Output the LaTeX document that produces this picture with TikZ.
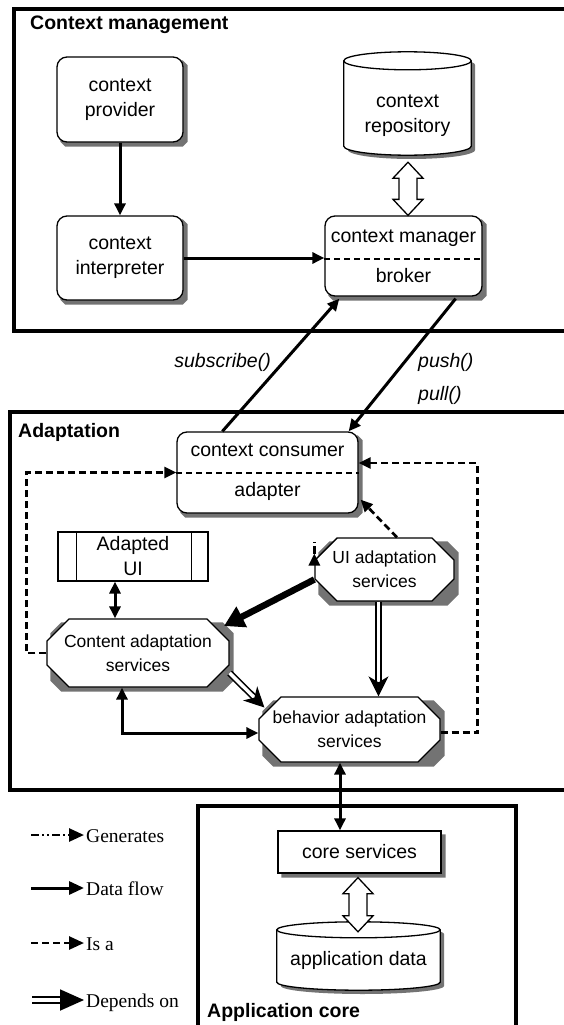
\documentclass[tikz,border=0pt]{standalone}
\usepackage{fontspec}
\setmainfont{Liberation Sans}
\newfontfamily\legendfont{Liberation Serif}
\usetikzlibrary{arrows.meta,shapes.misc,calc,backgrounds}
\colorlet{shadowc}{black!55}
\newcommand\nf{\fontsize{19.5pt}{25pt}\selectfont}
\newcommand\smnf{\fontsize{17.5pt}{24pt}\selectfont}
\newcommand\cyl[2]{%
  \path[fill=white,draw,line width=1.3pt] let \p1=(#1.north west),\p2=(#1.south east),\n1={(\x2-\x1)/2} in
    (\x1,{\y1-#2pt}) -- (\x1,{\y2+#2pt}) arc[start angle=180,end angle=360,x radius={\n1*1pt},y radius=#2pt]
    -- (\x2,{\y1-#2pt}) arc[start angle=0,end angle=180,x radius={\n1*1pt},y radius=#2pt] -- cycle;
  \draw[line width=1.3pt] let \p1=(#1.north west),\p2=(#1.south east),\n1={(\x2-\x1)/2} in
    (\x1,{\y1-#2pt}) arc[start angle=180,end angle=360,x radius={\n1*1pt},y radius=#2pt];}
% cylinder shadow as polyline: node, half width, top ellipse centre y, bottom ellipse centre y, ry (relative to node centre, y down)
\newcommand\cylshadow[5]{%
  \begin{scope}[shift={(#1.center)}]
  \fill[shadowc] ({4-#2},#3) -- plot[domain=180:0,samples=31] ({4+#2*cos(\x)},{#4+#5*sin(\x)})
    -- plot[domain=0:-180,samples=31] ({4+#2*cos(\x)},{#3+#5*sin(\x)}) -- cycle;
  \end{scope}}
\newcommand\hollowarrow[2]{%
  \path[hollow] let \p1=(#1),\p2=(#2) in (\x1,\y1) -- ({\x1+15pt},{\y1-16pt}) -- ({\x1+9pt},{\y1-16pt})
    -- ({\x1+9pt},{\y2+16pt}) -- ({\x1+15pt},{\y2+16pt}) -- (\x1,\y2) -- ({\x1-15pt},{\y2+16pt})
    -- ({\x1-9pt},{\y2+16pt}) -- ({\x1-9pt},{\y1-16pt}) -- ({\x1-15pt},{\y1-16pt}) -- cycle;}
% box shadow as polygon: node, corner cut
\newcommand\cshadow[2]{\fill[shadowc] let \p1=(#1.north -| #1.west),\p2=(#1.south -| #1.east) in
  ({\x1+4pt+#2pt},{\y1-4pt}) -- ({\x2+4pt-#2pt},{\y1-4pt}) -- ({\x2+4pt},{\y1-4pt-#2pt}) -- ({\x2+4pt},{\y2-4pt+#2pt})
  -- ({\x2+4pt-#2pt},{\y2-4pt}) -- ({\x1+4pt+#2pt},{\y2-4pt}) -- ({\x1+4pt},{\y2-4pt+#2pt}) -- ({\x1+4pt},{\y1-4pt-#2pt}) -- cycle;}
\begin{document}
\begin{tikzpicture}[x=1pt,y=-1pt,
  box/.style={draw,line width=1.3pt,fill=white,font=\nf,align=center,inner sep=2pt},
  rbox/.style={box,rounded corners=10pt},
  obox/.style={box,chamfered rectangle,chamfered rectangle xsep=11pt,chamfered rectangle ysep=11pt,font=\smnf},
  frame/.style={line width=4.5pt},
  divider/.style={line width=2pt,dash pattern=on 6pt off 4pt},
  title/.style={font=\bfseries\nf,anchor=west,inner sep=0pt},
  lbl/.style={font=\itshape\nf,inner sep=0pt},
  leg/.style={font=\legendfont\nf,anchor=base west,inner xsep=2pt,inner ysep=0pt},
  flow/.style={line width=3pt,-{Triangle[length=12pt,width=11pt]}},
  flowboth/.style={line width=3pt,{Triangle[length=12pt,width=11pt]}-{Triangle[length=12pt,width=11pt]}},
  isa/.style={line width=2.7pt,dash pattern=on 7pt off 4pt,-{Triangle[length=12pt,width=11pt]}},
  gen/.style={line width=2.7pt,dash pattern=on 8pt off 3pt on 2pt off 3pt on 2pt off 3pt,-{Triangle[length=12pt,width=11pt]}},
  legtip/.style={-{Triangle[length=15pt,width=13pt]}},
  dep/.style={double,double distance=3.5pt,line width=1.6pt,-{Stealth[length=20pt,width=20pt,inset=6pt]}},
  depleg/.style={double,double distance=3.5pt,line width=1.8pt,-{Triangle[length=24pt,width=21pt]}},
  heavy/.style={line width=6.5pt,-{Triangle[length=20pt,width=22pt]}},
  hollow/.style={draw,line width=1.3pt,fill=white}
]
\clip (0,0) rectangle (564,1025);
% frames
\draw[frame] (14,9) rectangle (580,331);
\draw[frame] (10,412) rectangle (580,790);
\draw[frame] (198,806) rectangle (516,1040);
\node[title] (tcm) at (30,25) {Context management};
\node[title] (tad) at (18,432) {Adaptation};
\node[title] (tac) at (207,1012) {Application core};

% context management
\node[rbox,minimum width=126pt,minimum height=85pt] (prov) at (120,99.5) {context\\provider};
\node[rbox,minimum width=126pt,minimum height=84pt] (interp) at (120,258) {context\\interpreter};
\node[minimum width=127pt,minimum height=103pt,inner sep=0pt] (repo) at (407.5,103.5) {};
\cyl{repo}{9}
\node[font=\nf,align=center,inner sep=0pt] (repotext) at (407.5,116) {context\\repository};
\node[rbox,minimum width=157pt,minimum height=80pt] (mgr) at (403.5,256) {context manager\\[15pt]broker};
\draw[divider] ($(mgr.west)+(0,3)$) -- ($(mgr.east)+(0,3)$);

\draw[flow] (prov) -- (interp);
\draw[flow] (interp.east) -- (interp.east -| mgr.west);
\coordinate (h1a) at ($(repo.south)+(0.5,7)$);
\hollowarrow{h1a}{mgr.north}

% adaptation
\node[rbox,minimum width=181pt,minimum height=81pt] (cons) at (267.5,472.5) {context consumer\\[15pt]adapter};
\draw[divider] (cons.west) -- (cons.east);
\node[draw,line width=1.1pt,fill=white,minimum width=150pt,minimum height=49pt,font=\nf,align=center,inner sep=1pt] (aui) at (133,556.5) {Adapted\\UI};
\draw[line width=1.1pt] ($(aui.north west)+(19,0)$) -- ($(aui.south west)+(19,0)$);
\draw[line width=1.1pt] ($(aui.north east)+(-17,0)$) -- ($(aui.south east)+(-17,0)$);
\node[obox,minimum width=139pt,minimum height=61pt] (ui) at (384.5,569.5) {UI adaptation\\services};
\node[obox,minimum width=182pt,minimum height=68pt] (cont) at (138,653) {Content adaptation\\services};
\node[obox,minimum width=181pt,minimum height=65pt] (beh) at (349.5,729.5) {behavior adaptation\\services};

% labels between
\node[lbl,anchor=east] (lsub) at (271,362) {subscribe()};
\node[lbl,anchor=west] (lpush) at (418,362) {push()};
\node[lbl,anchor=west] (lpull) at (418,395) {pull()};
\draw[flow] ($(cons.north west)+(46,0)$) -- ($(mgr.south west)+(15,2)$);
\draw[flow] ($(mgr.south east)+(-27,2)$) -- ($(cons.north east)+(-10,0)$);

% adaptation connectors
\draw[gen] ($(ui.west)+(0,-16)$) -- ($(ui.west)+(0,-16)$ -| aui.east);
\draw[isa] ($(ui.north)+(12.5,0)$) -- ($(cons.south east)+(2,-14)$);
\draw[isa] (cont.west) -- ++(-20,0) |- (cons.west);
\draw[isa] ($(beh.east)+(0,3)$) -- ++(37,0) |- ($(cons.east)+(0,-9.5)$);
\draw[heavy] ($(ui.west)+(0,10)$) -- ($(cont.center)+(86,-27)$);
\coordinate (d1) at ($(ui.south)+(-6,0)$);
\draw[dep] (d1) -- (d1 |- beh.north);
\draw[dep] ($(cont.east)+(0,20)$) -- ($(beh.west)+(6,-22)$);
\draw[flowboth] ($(aui.south)+(-18,0)$) -- ($(cont.north)+(-23,0)$);
\draw[flowboth] ($(cont.south)+(-16,0)$) |- ($(beh.west)+(0,3.5)$);

% application core
\node[box,minimum width=163pt,minimum height=42pt] (core) at (359.5,852) {core services};
\node[minimum width=163pt,minimum height=68pt,inner sep=0pt] (appd) at (358.5,956) {};
\cyl{appd}{8}
\node[font=\nf,inner sep=0pt] (appdtext) at (358.5,960) {application data};
\coordinate (d2) at ($(beh.south)+(-9.5,0)$);
\draw[flowboth] (d2) -- (d2 |- core.north);
\coordinate (h2a) at ($(core.south)+(-1.5,4)$);
\coordinate (h2b) at ($(appd.north)+(-0.5,10)$);
\hollowarrow{h2a}{h2b}

% shadows
\begin{scope}[on background layer]
\cshadow{prov}{5}
\cshadow{interp}{5}
\cshadow{mgr}{5}
\cshadow{cons}{5}
\cshadow{core}{0}
\cshadow{ui}{11}
\cshadow{cont}{11}
\cshadow{beh}{11}
\cylshadow{repo}{63.5}{-38.5}{46.5}{9}
\cylshadow{appd}{81.5}{-22}{30}{8}
\end{scope}

% legend
\coordinate (l1) at (31,835);
\coordinate (l2) at (31,888);
\coordinate (l3) at (31,943);
\coordinate (l4) at (32,1000);
\node[leg] (t1) at (84,842) {Generates};
\node[leg] (t2) at (84,895) {Data flow};
\node[leg] (t3) at (84,950) {Is a};
\node[leg] (t4) at (84,1007) {Depends on};
\draw[gen,legtip] (l1) -- (l1 -| t1.west);
\draw[flow,legtip] (l2) -- (l2 -| t2.west);
\draw[isa,legtip] (l3) -- (l3 -| t3.west);
\draw[depleg] (l4) -- (l4 -| t4.west);
\end{tikzpicture}
\end{document}
